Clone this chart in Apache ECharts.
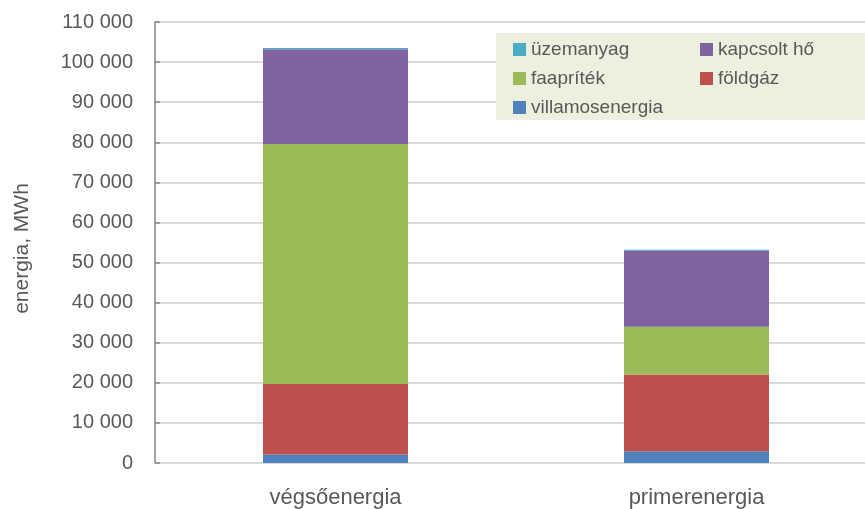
<!DOCTYPE html>
<html><head><meta charset="utf-8">
<script src="https://cdn.jsdelivr.net/npm/echarts@6/dist/echarts.min.js"></script>
<style>html,body{margin:0;padding:0;background:#fff}#c{width:865px;height:509px}</style>
</head><body><div id="c"></div>
<script>
const categories = ['végsőenergia', 'primerenergia'];
const villamosenergia = [2150, 2900];
const foldgaz = [17550, 19200];
const faapritek = [59900, 11900];
const kapcsoltHo = [23600, 18950];
const uzemanyag = [300, 250];
const yTicks = [0, 10000, 20000, 30000, 40000, 50000, 60000, 70000, 80000, 90000, 100000, 110000];

const FONT = 'Liberation Sans';
const TXT = '#595959';
const chart = echarts.init(document.getElementById('c'));
const mk = (name, data, color) => ({
  name, type: 'bar', stack: 'e', data, barWidth: 145,
  itemStyle: { color }, emphasis: { disabled: true }
});
chart.setOption({
  animation: false,
  textStyle: { fontFamily: FONT },
  grid: { left: 155, top: 22, bottom: 46, width: 722, outerBoundsMode: 'none', containLabel: false },
  graphic: [{
    type: 'rect', left: 496, top: 33, z: 5,
    shape: { width: 369, height: 87 },
    style: { fill: '#ebf1de' }
  }],
  legend: [{
    data: ['üzemanyag', 'faapríték', 'villamosenergia'],
    orient: 'vertical', left: 508, top: 35, itemGap: 10, z: 10,
    itemWidth: 13, itemHeight: 13, icon: 'rect',
    textStyle: { fontSize: 19, color: TXT, fontFamily: FONT }
  }, {
    data: ['kapcsolt hő', 'földgáz'],
    orient: 'vertical', left: 695, top: 35, itemGap: 10, z: 10,
    itemWidth: 13, itemHeight: 13, icon: 'rect',
    textStyle: { fontSize: 19, color: TXT, fontFamily: FONT }
  }],
  xAxis: {
    type: 'category', data: categories,
    axisLine: { lineStyle: { color: '#d9d9d9', width: 2 } },
    axisTick: { show: false },
    axisLabel: { fontSize: 22, color: TXT, margin: 24, fontFamily: FONT }
  },
  yAxis: {
    type: 'value', min: 0, max: 110000, interval: 10000,
    name: 'energia, MWh', nameLocation: 'middle', nameGap: 122,
    nameTextStyle: { fontSize: 21, color: TXT, fontFamily: FONT, padding: [0, 12, 0, 0] },
    axisLine: { show: true, lineStyle: { color: '#868686', width: 1.5 } },
    axisTick: { show: true, inside: true, length: 5, lineStyle: { color: '#868686', width: 1.5 } },
    splitLine: { lineStyle: { color: '#d9d9d9', width: 2 } },
    axisLabel: {
      fontSize: 20, color: TXT, margin: 22, fontFamily: FONT,
      formatter: v => yTicks.includes(v) ? String(v).replace(/\B(?=(\d{3})+(?!\d))/g, ' ') : ''
    }
  },
  series: [
    mk('villamosenergia', villamosenergia, '#4f81bd'),
    mk('földgáz', foldgaz, '#c0504d'),
    mk('faapríték', faapritek, '#9bbb59'),
    mk('kapcsolt hő', kapcsoltHo, '#8064a2'),
    mk('üzemanyag', uzemanyag, '#4bacc6')
  ]
});
</script></body></html>
